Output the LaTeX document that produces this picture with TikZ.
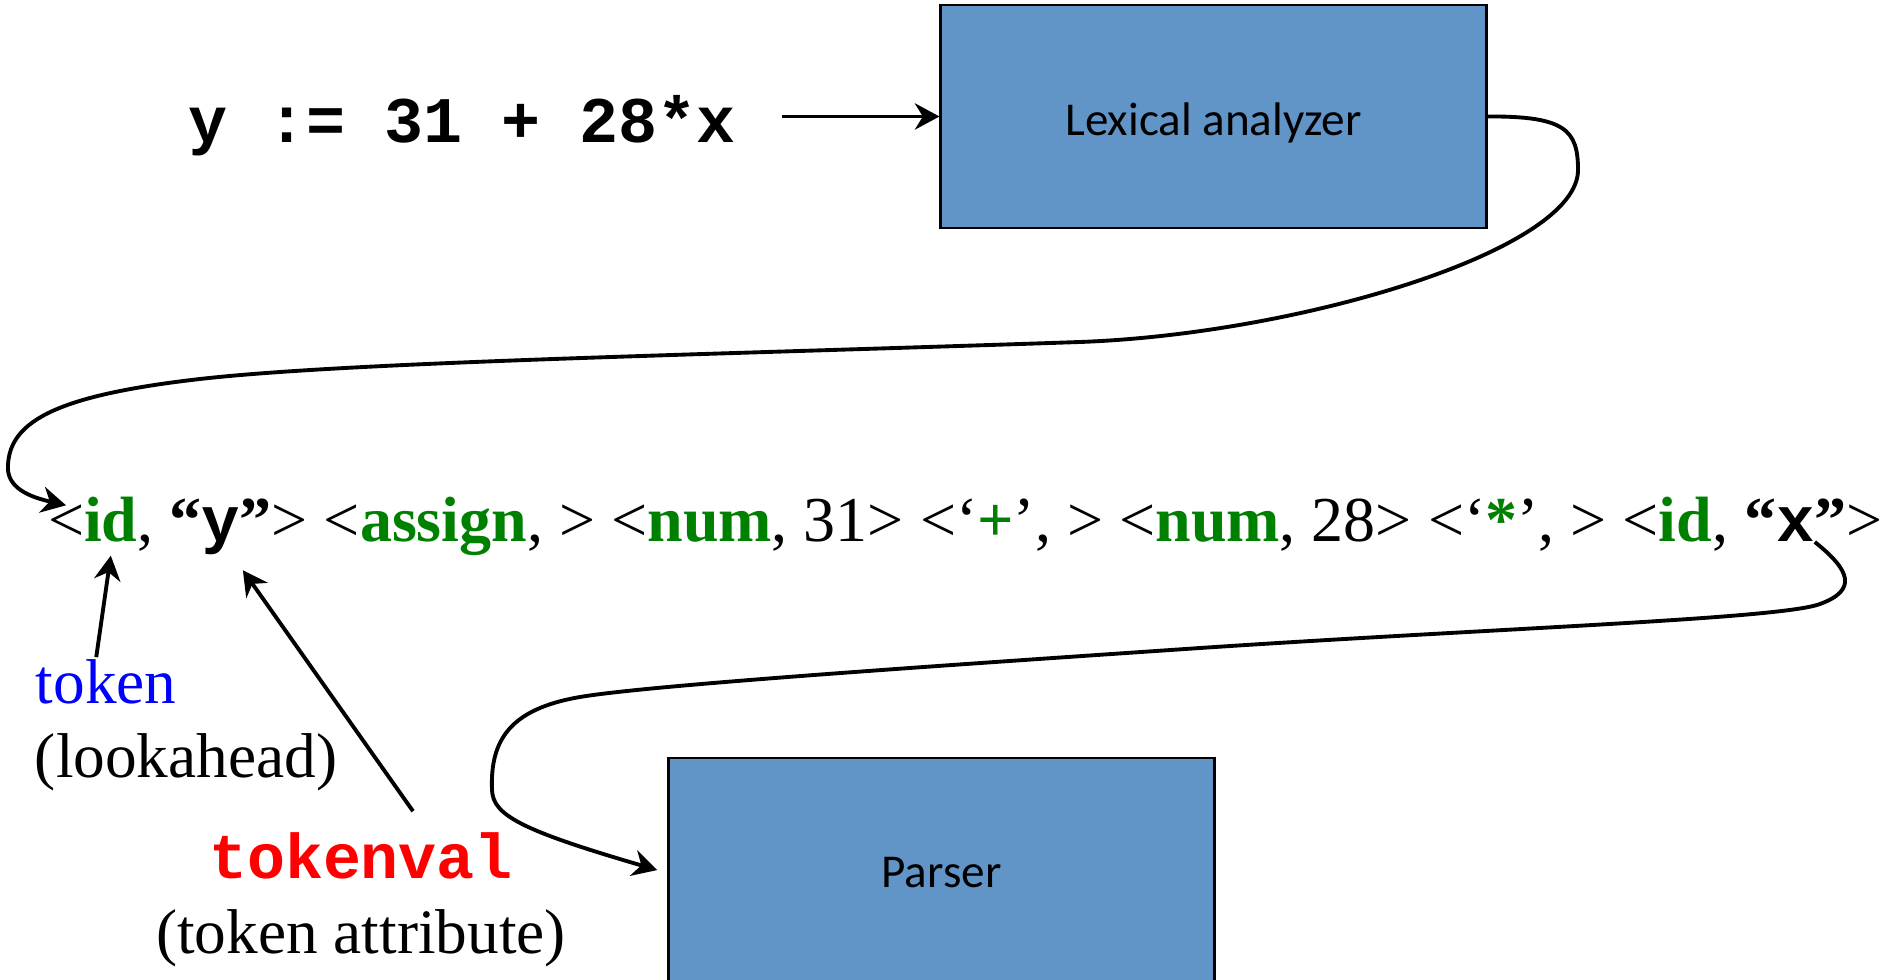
\documentclass[tikz,border=0pt]{standalone}
\usepackage{fontspec}
\setmainfont{Liberation Serif}
\newfontfamily\codefont{Liberation Mono}
\newfontfamily\uifont{Carlito}
\usetikzlibrary{arrows.meta,positioning,calc}
\definecolor{boxblue}{HTML}{6295C7}
\definecolor{tokgreen}{HTML}{008000}
\newcommand{\kw}[1]{\textcolor{tokgreen}{\textbf{#1}}}

\begin{document}
\begin{tikzpicture}[x = 0.01cm, y = -0.01cm, line width = 1.1pt,
    box/.style = {draw = black, line width = 0.8pt, fill = boxblue, minimum width = 5.45cm,
                  font = \uifont\fontsize{13.4}{16}\selectfont},
    piece/.style = {inner sep = 0pt, outer sep = 0pt, anchor = base west, font = \fontsize{18.2}{22}\selectfont},
    note/.style = {inner sep = 0pt, font = \fontsize{18}{22}\selectfont},
    conn/.style = {-{Stealth[length = 7pt, width = 7.5pt]}}]
  \useasboundingbox (0,0) rectangle (1883,980);

  \node [box, minimum height = 2.23cm, text height = 0.45cm] (lex) at (1213.5,116.5) {Lexical analyzer};
  \node [box, minimum height = 2.30cm] (parser) at (941.5,873) {Parser};

  \node [note, anchor = base west, font = \codefont\bfseries\fontsize{18.5}{22}\selectfont] (inp) at (187,143) {y := 31 + 28*x};

  % token stream
  \node [piece] (lt) at (48,542) {<};
  \node [piece, right = 0pt of lt.base east, anchor = base west] (id1) {\kw{id}};
  \node [piece, right = 0pt of id1.base east, anchor = base west] (qa) {, \textbf{“}};
  \node [piece, right = 0pt of qa.base east, anchor = base west, font = \codefont\bfseries\fontsize{18.2}{22}\selectfont] (yv) {y};
  \node [piece, right = 0pt of yv.base east, anchor = base west] (mid) {\textbf{”}> <\kw{assign}, > <\kw{num}, 31> <‘\kw{+}’, > <\kw{num}, 28> <‘\kw{*}’, > <\kw{id}, \textbf{“}};
  \node [piece, right = 0pt of mid.base east, anchor = base west, font = \codefont\bfseries\fontsize{18.2}{22}\selectfont] (xv) {x};
  \node [piece, right = 0pt of xv.base east, anchor = base west] (qz) {\textbf{”}>};

  \node [note, anchor = base west, text = blue] (tok) at (34,703) {token};
  \node [note, anchor = base west] (look) at (33,777) {(lookahead)};
  \node [note, anchor = base, text = red, font = \codefont\bfseries\fontsize{18}{22}\selectfont] (tv) at (361,878) {tokenval};
  \node [note, anchor = base] (attr) at (361,953) {(token attribute)};

  \draw [conn, line width = 0.9pt] ([xshift = 0.45cm]inp.east |- lex.west) -- (lex.west);

  \draw [conn] (lex.east) .. controls (1565,116) and (1578,130) .. (1578,170)
    .. controls (1578,250) and (1300,334) .. (1080,342)
    .. controls (700,355) and (350,362) .. (200,379)
    .. controls (60,395) and (10,420) .. (8,465)
    .. controls (6,488) and (30,497) .. (lt.north);

  \draw [conn, shorten > = 3pt] (xv.south east) .. controls (1850,570) and (1858,590) .. (1820,604)
    .. controls (1780,619) and (1500,628) .. (1200,648)
    .. controls (950,665) and (650,685) .. (580,697)
    .. controls (510,709) and (490,740) .. (492,790)
    .. controls (493,815) and (520,830) .. (parser.west);

  \draw [conn] ([xshift = -0.1cm]tok.north) -- ([yshift = -0.13cm]id1.south);
  \draw [conn] ($(tv.north)+(52,-19)$) -- ([xshift = 0.03cm, yshift = -0.15cm]yv.south east);
\end{tikzpicture}
\end{document}
